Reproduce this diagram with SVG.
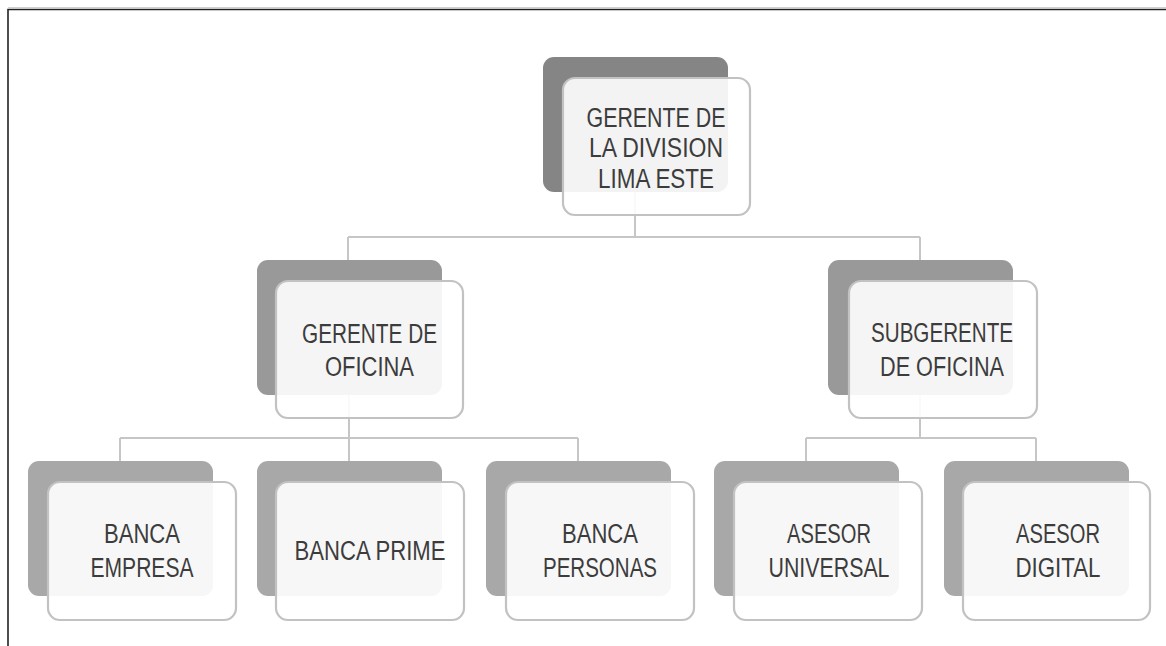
<svg xmlns="http://www.w3.org/2000/svg" width="1166" height="646" viewBox="0 0 1166 646">
<style>
.bg{fill:#ffffff}
.frame{stroke:#222222;stroke-width:1.6;fill:none}
.frame2{stroke:#d0d0d0;stroke-width:1.2;fill:none}
.conn{stroke:#c6c6c6;stroke-width:2;fill:none}
.back1{fill:#858585}
.back2{fill:#999999}
.back3{fill:#a8a8a8}
.front{fill:#ffffff;fill-opacity:0.9;stroke:#c2c2c2;stroke-width:2.2}
.t{font-family:"Liberation Sans","Open Sans",sans-serif;font-size:27px;fill:#3c3c3c;text-anchor:middle}
</style>
<rect class="bg" x="0" y="0" width="1166" height="646"/>
<line class="frame2" x1="8" y1="7.5" x2="1166" y2="7.5"/>
<polyline class="frame" points="8,646 8,9.5 1166,9.5"/>
<g id="connectors">
<path class="conn" d="M635,192 V237 M348,237 H920 M348,237 V260 M920,237 V260"/>
<path class="conn" d="M349,395 V438 M120,438 H578 M120,438 V461 M349,438 V461 M578,438 V461"/>
<path class="conn" d="M920,395 V438 M806,438 H1036 M806,438 V461 M1036,438 V461"/>
</g>
<g id="n-gerente-division">
<rect class="back1" x="543" y="57" width="185" height="135" rx="11"/>
<rect class="front" x="563" y="78" width="187" height="137" rx="12"/>
<text class="t" x="656" y="126.5" textLength="139" lengthAdjust="spacingAndGlyphs">GERENTE DE</text>
<text class="t" x="656" y="157" textLength="134" lengthAdjust="spacingAndGlyphs">LA DIVISION</text>
<text class="t" x="656" y="187.5" textLength="116" lengthAdjust="spacingAndGlyphs">LIMA ESTE</text>
</g>
<g id="n-gerente-oficina">
<rect class="back2" x="257" y="260" width="185" height="135" rx="11"/>
<rect class="front" x="276" y="281" width="187" height="137" rx="12"/>
<text class="t" x="369.5" y="343" textLength="135" lengthAdjust="spacingAndGlyphs">GERENTE DE</text>
<text class="t" x="369.5" y="376" textLength="89" lengthAdjust="spacingAndGlyphs">OFICINA</text>
</g>
<g id="n-subgerente">
<rect class="back2" x="828" y="260" width="185" height="135" rx="11"/>
<rect class="front" x="849" y="281" width="188" height="137" rx="12"/>
<text class="t" x="942" y="342" textLength="142" lengthAdjust="spacingAndGlyphs">SUBGERENTE</text>
<text class="t" x="942" y="376" textLength="124" lengthAdjust="spacingAndGlyphs">DE OFICINA</text>
</g>
<g id="n-banca-empresa">
<rect class="back3" x="28" y="461" width="185" height="135" rx="11"/>
<rect class="front" x="48" y="482" width="188" height="138" rx="12"/>
<text class="t" x="142" y="543" textLength="76" lengthAdjust="spacingAndGlyphs">BANCA</text>
<text class="t" x="142" y="577" textLength="103" lengthAdjust="spacingAndGlyphs">EMPRESA</text>
</g>
<g id="n-banca-prime">
<rect class="back3" x="257" y="461" width="185" height="135" rx="11"/>
<rect class="front" x="276" y="482" width="188" height="138" rx="12"/>
<text class="t" x="370" y="560" textLength="151" lengthAdjust="spacingAndGlyphs">BANCA PRIME</text>
</g>
<g id="n-banca-personas">
<rect class="back3" x="486" y="461" width="185" height="135" rx="11"/>
<rect class="front" x="506" y="482" width="188" height="138" rx="12"/>
<text class="t" x="600" y="543" textLength="76" lengthAdjust="spacingAndGlyphs">BANCA</text>
<text class="t" x="600" y="577" textLength="114" lengthAdjust="spacingAndGlyphs">PERSONAS</text>
</g>
<g id="n-asesor-universal">
<rect class="back3" x="714" y="461" width="185" height="135" rx="11"/>
<rect class="front" x="734" y="482" width="188" height="138" rx="12"/>
<text class="t" x="829" y="543" textLength="84" lengthAdjust="spacingAndGlyphs">ASESOR</text>
<text class="t" x="829" y="577" textLength="121" lengthAdjust="spacingAndGlyphs">UNIVERSAL</text>
</g>
<g id="n-asesor-digital">
<rect class="back3" x="944" y="461" width="185" height="135" rx="11"/>
<rect class="front" x="963" y="482" width="187" height="138" rx="12"/>
<text class="t" x="1058" y="543" textLength="84" lengthAdjust="spacingAndGlyphs">ASESOR</text>
<text class="t" x="1058" y="577" textLength="85" lengthAdjust="spacingAndGlyphs">DIGITAL</text>
</g>
</svg>
